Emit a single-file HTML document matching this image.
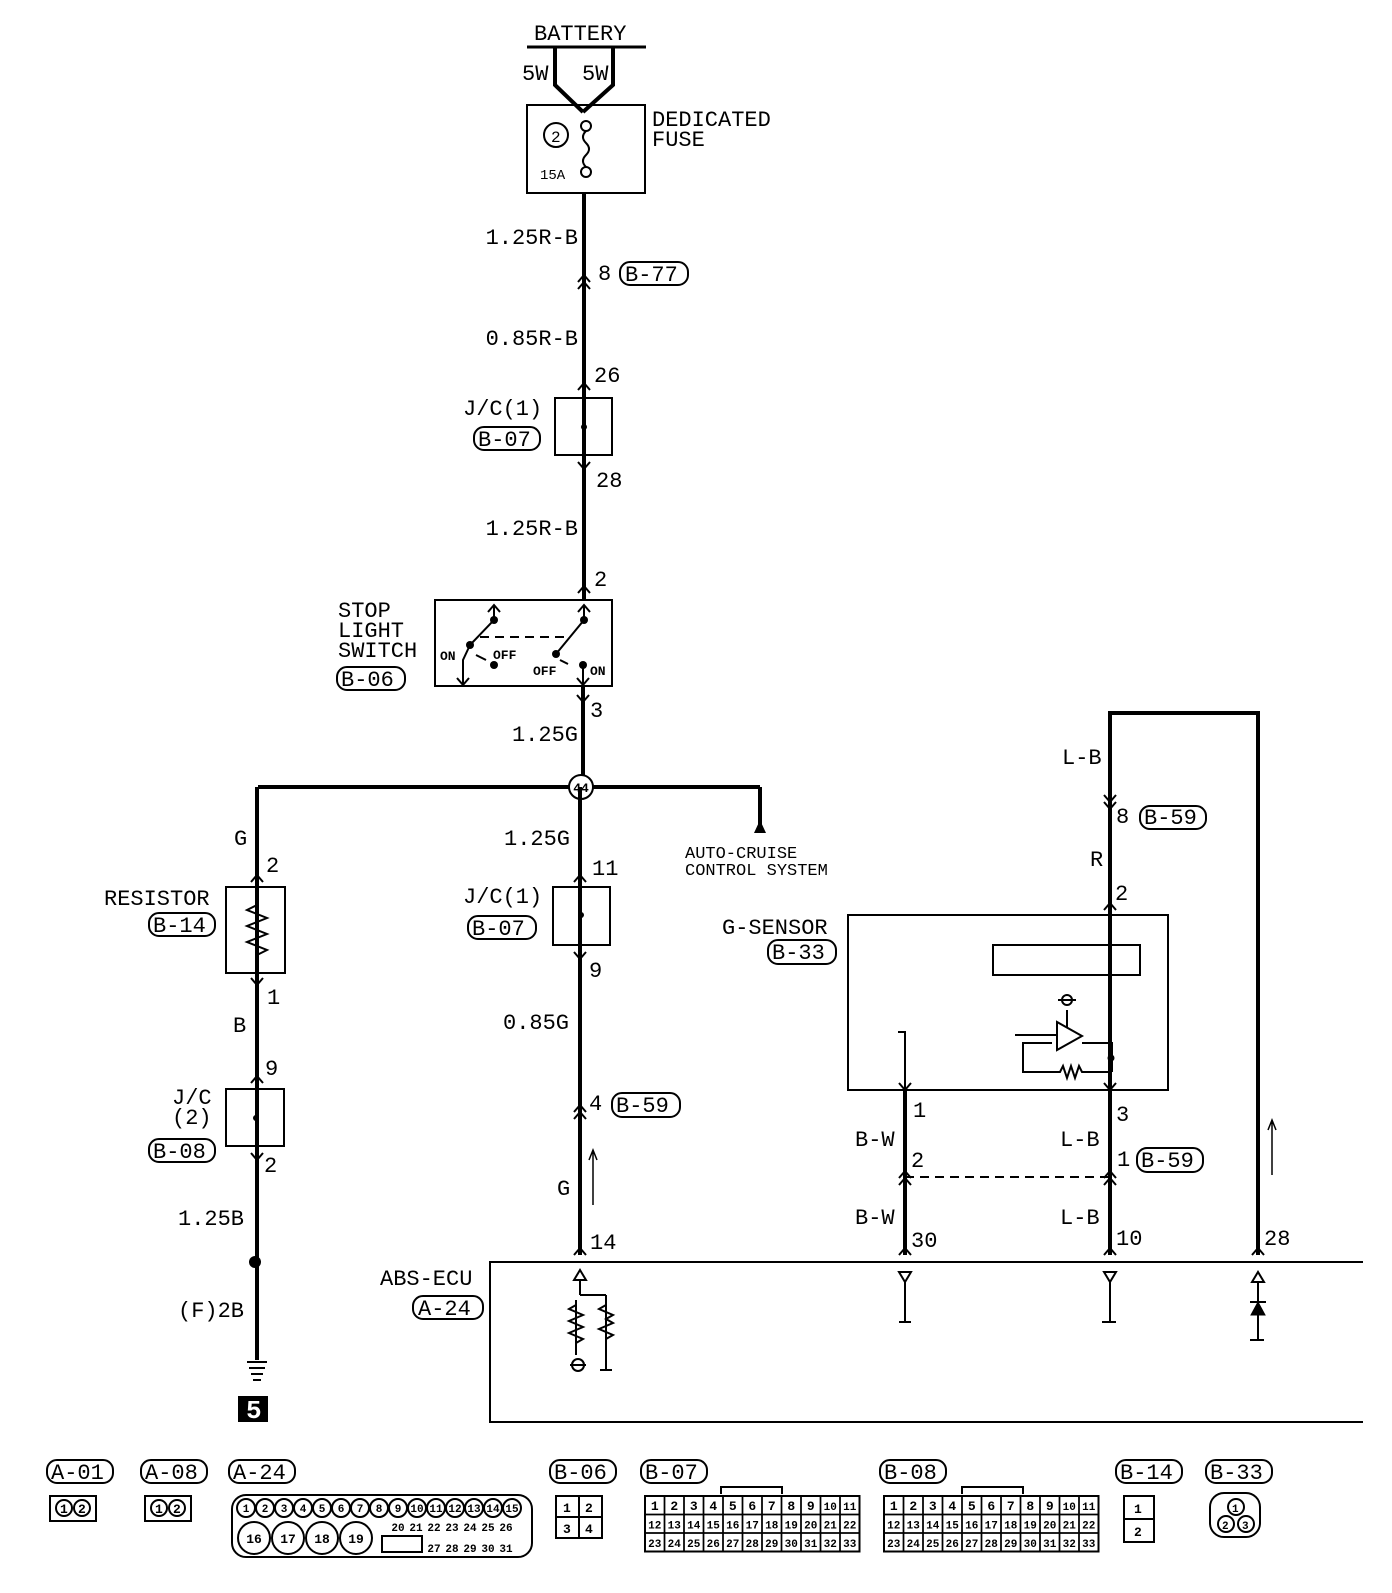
<!DOCTYPE html>
<html><head><meta charset="utf-8"><style>
html,body{margin:0;padding:0;background:#fff}
svg text{font-family:"Liberation Mono",monospace;fill:#000}
</style></head><body>
<svg width="1392" height="1588" viewBox="0 0 1392 1588" xmlns="http://www.w3.org/2000/svg">
<g font-size="22" fill="none" stroke="#000">
<line x1="527" y1="47" x2="646" y2="47" stroke-width="3"/>
<path d="M555 47 V85 L583 112 M613 47 V85 L583 112" stroke-width="4"/>
<rect x="527" y="105" width="118" height="88" stroke-width="2"/>
<circle cx="556" cy="135" r="12" stroke-width="2"/>
<circle cx="586" cy="126" r="5" stroke-width="2"/>
<circle cx="586" cy="172" r="5" stroke-width="2"/>
<path d="M586 131 q-6 6 0 12 q6 6 0 12 q-6 6 0 12" stroke-width="2"/>
<line x1="584" y1="193" x2="584" y2="600" stroke-width="4"/>
<line x1="583" y1="686" x2="583" y2="787" stroke-width="4"/>
<path d="M578 282 L584 275 L590 282 M578 289 L584 282 L590 289" stroke-width="2"/>
<path d="M578 390 L584 383 L590 390" stroke-width="2"/>
<rect x="555" y="398" width="57" height="57" stroke-width="2"/>
<path d="M578 462 L584 469 L590 462" stroke-width="2"/>
<path d="M578 593 L584 586 L590 593" stroke-width="2"/>
<rect x="435" y="600" width="177" height="86" stroke-width="2"/>
<path d="M577 695 L583 702 L589 695" stroke-width="2"/>
<path d="M494 605 V620 L470 645 M488 612 L494 605 L500 612" stroke-width="2"/>
<path d="M584 605 V620 L556 654 M578 612 L584 605 L590 612" stroke-width="2"/>
<path d="M470 645 L463 660 V685 M457 678 L463 685 L469 678" stroke-width="2"/>
<path d="M583 663 V685 M577 678 L583 685 L589 678" stroke-width="2"/>
<line x1="480" y1="637" x2="570" y2="637" stroke-width="2" stroke-dasharray="9,6"/>
<path d="M476 655 l10 5 M560 660 l8 4" stroke-width="2"/>
<line x1="258" y1="787" x2="760" y2="787" stroke-width="4"/>
<line x1="760" y1="787" x2="760" y2="826" stroke-width="4"/>
<circle cx="581" cy="787" r="12" fill="#fff" stroke-width="2"/>
<line x1="257" y1="787" x2="257" y2="1360" stroke-width="4"/>
<path d="M251 882 L257 875 L263 882" stroke-width="2"/>
<rect x="226" y="887" width="59" height="86" stroke-width="2"/>
<path d="M257 905 l-10 5 l20 8 l-20 8 l20 8 l-20 8 l20 8 l-10 5" stroke-width="2"/>
<path d="M251 978 L257 985 L263 978" stroke-width="2"/>
<path d="M251 1083 L257 1076 L263 1083" stroke-width="2"/>
<rect x="226" y="1089" width="58" height="57" stroke-width="2"/>
<path d="M251 1153 L257 1160 L263 1153" stroke-width="2"/>
<path d="M247 1362 h20 M249 1368 h16 M251 1374 h12 M253 1380 h8" stroke-width="2"/>
<line x1="580" y1="787" x2="580" y2="1255" stroke-width="4"/>
<path d="M574 882 L580 875 L586 882" stroke-width="2"/>
<rect x="553" y="887" width="57" height="58" stroke-width="2"/>
<path d="M574 952 L580 959 L586 952" stroke-width="2"/>
<path d="M574 1112 L580 1105 L586 1112 M574 1119 L580 1112 L586 1119" stroke-width="2"/>
<path d="M574 1255 L580 1248 L586 1255" stroke-width="2"/>
<path d="M593 1205 V1152 M589 1160 L593 1150 L597 1160" stroke-width="1.5"/>
<path d="M1110 1255 V713 H1258 V1255" stroke-width="4"/>
<line x1="905" y1="1090" x2="905" y2="1255" stroke-width="4"/>
<path d="M1104 795 L1110 802 L1116 795 M1104 802 L1110 809 L1116 802" stroke-width="2"/>
<path d="M1104 910 L1110 903 L1116 910" stroke-width="2"/>
<rect x="848" y="915" width="320" height="175" stroke-width="2"/>
<rect x="993" y="945" width="147" height="30" stroke-width="2"/>
<line x1="1110" y1="915" x2="1110" y2="945" stroke-width="2"/>
<path d="M905 1033 V1090 M898 1032 h8 M899 1083 L905 1090 L911 1083" stroke-width="2"/>
<path d="M1110 1072 V1090 M1104 1083 L1110 1090 L1116 1083" stroke-width="2"/>
<path d="M1015 1035 H1057 M1057 1022 V1050 L1082 1036 Z M1082 1043 H1112 V1072 M1052 1043 H1023 V1072 H1060 l3 -6 l4 12 l4 -12 l4 12 l4 -12 l3 6 H1112 M1067 1010 V1028 M1058 1000 h18" stroke-width="2"/>
<circle cx="1067" cy="1000" r="5" stroke-width="2"/>
<circle cx="1111" cy="1058" r="3" fill="#000"/>
<path d="M899 1185 L905 1178 L911 1185 M899 1178 L905 1171 L911 1178" stroke-width="2"/>
<path d="M1104 1185 L1110 1178 L1116 1185 M1104 1178 L1110 1171 L1116 1178" stroke-width="2"/>
<line x1="905" y1="1177" x2="1110" y2="1177" stroke-width="2" stroke-dasharray="9,6"/>
<path d="M899 1255 L905 1248 L911 1255 M1104 1255 L1110 1248 L1116 1255 M1252 1255 L1258 1248 L1264 1255" stroke-width="2"/>
<path d="M1272 1175 V1122 M1268 1130 L1272 1120 L1276 1130" stroke-width="1.5"/>
<path d="M1363 1262 H490 V1422 H1363" stroke-width="2"/>
<path d="M574 1280 L580 1270 L586 1280 Z M580 1280 V1295 M576 1300 V1355 M606 1295 V1370 M580 1295 H606" stroke-width="2"/>
<path d="M576 1305 l-7 4 l14 6 l-14 6 l14 6 l-14 6 l14 6 l-7 4 M606 1305 l-7 4 l14 6 l-7 4 l7 4 l-14 6 l14 6 l-7 4" stroke-width="2"/>
<circle cx="578" cy="1365" r="6" stroke-width="2"/>
<path d="M570 1365 h16 M600 1370 h12" stroke-width="2"/>
<path d="M899 1272 L905 1282 L911 1272 Z M905 1282 V1322 M899 1322 h12" stroke-width="2"/>
<path d="M1104 1272 L1110 1282 L1116 1272 Z M1110 1282 V1322 M1102 1322 h14" stroke-width="2"/>
<path d="M1252 1282 L1258 1272 L1264 1282 Z M1258 1282 V1340 M1250 1340 h14 M1250 1302 h16" stroke-width="2"/>
<path d="M1251 1315 L1258 1302 L1265 1315 Z" fill="#000" stroke-width="1"/>
<g stroke-width="2">
<rect x="620" y="262" width="68" height="23" rx="10"/>
<rect x="474" y="427" width="66" height="23" rx="10"/>
<rect x="337" y="667" width="68" height="23" rx="10"/>
<rect x="149" y="913" width="66" height="23" rx="10"/>
<rect x="468" y="916" width="68" height="23" rx="10"/>
<rect x="149" y="1139" width="66" height="23" rx="10"/>
<rect x="612" y="1093" width="68" height="24" rx="10"/>
<rect x="768" y="940" width="68" height="24" rx="10"/>
<rect x="1140" y="806" width="66" height="23" rx="10"/>
<rect x="1137" y="1148" width="66" height="24" rx="10"/>
<rect x="413" y="1296" width="70" height="23" rx="10"/>
</g>
</g>
<g fill="#000">
<circle cx="584" cy="427" r="3"/><circle cx="581" cy="915" r="3"/><circle cx="256" cy="1118" r="3"/>
<circle cx="255" cy="1262" r="6"/>
<circle cx="494" cy="620" r="4"/><circle cx="584" cy="620" r="4"/><circle cx="470" cy="645" r="4"/><circle cx="494" cy="665" r="4"/><circle cx="556" cy="654" r="4"/><circle cx="583" cy="665" r="4"/>
<path d="M754 833 L760 820 L766 833 Z"/>
<rect x="238" y="1396" width="30" height="26"/>
</g>
<g font-size="22">
<text x="534" y="40">BATTERY</text>
<text x="522" y="80">5W</text><text x="582" y="80">5W</text>
<text x="551" y="142" font-size="16">2</text>
<text x="540" y="179" font-size="14">15A</text>
<text x="652" y="126">DEDICATED</text><text x="652" y="146">FUSE</text>
<text x="578" y="244" text-anchor="end">1.25R-B</text>
<text x="598" y="280">8</text><text x="625" y="281">B-77</text>
<text x="578" y="345" text-anchor="end">0.85R-B</text>
<text x="594" y="382">26</text>
<text x="463" y="415">J/C(1)</text><text x="478" y="446">B-07</text>
<text x="596" y="487">28</text>
<text x="578" y="535" text-anchor="end">1.25R-B</text>
<text x="594" y="586">2</text>
<text x="338" y="617">STOP</text><text x="338" y="637">LIGHT</text><text x="338" y="657">SWITCH</text>
<text x="341" y="686">B-06</text>
<text x="440" y="660" font-size="13" font-weight="bold">ON</text><text x="493" y="659" font-size="13" font-weight="bold">OFF</text>
<text x="533" y="675" font-size="13" font-weight="bold">OFF</text><text x="590" y="675" font-size="13" font-weight="bold">ON</text>
<text x="590" y="717">3</text>
<text x="578" y="741" text-anchor="end">1.25G</text>
<text x="581" y="792" font-size="13" font-weight="bold" text-anchor="middle">44</text>
<text x="234" y="845">G</text><text x="266" y="872">2</text>
<text x="104" y="905">RESISTOR</text><text x="153" y="932">B-14</text>
<text x="267" y="1004">1</text><text x="233" y="1032">B</text><text x="265" y="1075">9</text>
<text x="172" y="1104">J/C</text><text x="172" y="1124">(2)</text><text x="153" y="1158">B-08</text>
<text x="264" y="1172">2</text>
<text x="178" y="1225">1.25B</text><text x="178" y="1317">(F)2B</text>
<text x="246" y="1418" style="fill:#fff" font-size="26" font-weight="bold">5</text>
<text x="504" y="845">1.25G</text><text x="592" y="875">11</text>
<text x="463" y="903">J/C(1)</text><text x="472" y="935">B-07</text>
<text x="589" y="977">9</text><text x="503" y="1029">0.85G</text>
<text x="589" y="1110">4</text><text x="616" y="1112">B-59</text>
<text x="557" y="1195">G</text><text x="590" y="1249">14</text>
<text x="685" y="858" font-size="17">AUTO-CRUISE</text><text x="685" y="875" font-size="17">CONTROL SYSTEM</text>
<text x="722" y="934">G-SENSOR</text><text x="772" y="959">B-33</text>
<text x="1062" y="764">L-B</text><text x="1116" y="823">8</text><text x="1144" y="824">B-59</text>
<text x="1090" y="866">R</text><text x="1115" y="900">2</text>
<text x="913" y="1117">1</text><text x="1116" y="1121">3</text>
<text x="855" y="1146">B-W</text><text x="911" y="1167">2</text>
<text x="1060" y="1146">L-B</text><text x="1117" y="1166">1</text><text x="1141" y="1167">B-59</text>
<text x="855" y="1224">B-W</text><text x="911" y="1247">30</text>
<text x="1060" y="1224">L-B</text><text x="1116" y="1245">10</text><text x="1264" y="1245">28</text>
<text x="380" y="1285">ABS-ECU</text><text x="418" y="1315">A-24</text>
</g>
<g fill="none" stroke="#000" stroke-width="2">
<rect x="47" y="1460" width="66" height="23" rx="10"/>
<rect x="141" y="1460" width="66" height="23" rx="10"/>
<rect x="229" y="1460" width="66" height="23" rx="10"/>
<rect x="550" y="1460" width="66" height="23" rx="10"/>
<rect x="641" y="1460" width="66" height="23" rx="10"/>
<rect x="880" y="1460" width="66" height="23" rx="10"/>
<rect x="1116" y="1460" width="66" height="23" rx="10"/>
<rect x="1206" y="1460" width="66" height="23" rx="10"/>
<rect x="50" y="1496" width="46" height="25"/>
<rect x="145" y="1496" width="46" height="25"/>
<circle cx="64" cy="1508" r="8"/><circle cx="82" cy="1508" r="8"/>
<circle cx="159" cy="1508" r="8"/><circle cx="177" cy="1508" r="8"/>
<rect x="232" y="1495" width="300" height="62" rx="14"/>
<rect x="556" y="1496" width="46" height="42"/>
<line x1="556" y1="1517" x2="602" y2="1517"/><line x1="579" y1="1496" x2="579" y2="1538"/>
<rect x="1124" y="1496" width="30" height="46"/><line x1="1124" y1="1519" x2="1154" y2="1519"/>
<rect x="1210" y="1493" width="50" height="44" rx="14"/>
<circle cx="1236" cy="1507" r="8"/><circle cx="1226" cy="1524" r="8"/><circle cx="1246" cy="1524" r="8"/>
<path d="M721 1494 V1487 H782 V1494 M962 1494 V1487 H1023 V1494"/>
</g>
<g font-size="22">
<text x="51" y="1479">A-01</text><text x="145" y="1479">A-08</text><text x="233" y="1479">A-24</text>
<text x="554" y="1479">B-06</text><text x="645" y="1479">B-07</text><text x="884" y="1479">B-08</text>
<text x="1120" y="1479">B-14</text><text x="1210" y="1479">B-33</text>
</g>
<g font-size="13" font-weight="bold">
<text x="60" y="1513">1</text><text x="78" y="1513">2</text><text x="155" y="1513">1</text><text x="173" y="1513">2</text>
<text x="563" y="1512">1</text><text x="585" y="1512">2</text><text x="563" y="1533">3</text><text x="585" y="1533">4</text>
<text x="1134" y="1513">1</text><text x="1134" y="1536">2</text>
<text x="1232" y="1512" font-size="11">1</text><text x="1222" y="1529" font-size="11">2</text><text x="1242" y="1529" font-size="11">3</text>
</g>
<g id="a24" font-size="11" font-weight="bold" stroke="#000" stroke-width="2" fill="none"></g>
<g id="grids"></g>
<script>
(function(){
var ns="http://www.w3.org/2000/svg";
function el(p,t,a,txt){var e=document.createElementNS(ns,t);for(var k in a)e.setAttribute(k,a[k]);if(txt!=null)e.textContent=txt;p.appendChild(e);return e;}
var g=document.getElementById('a24');
for(var i=0;i<15;i++){var cx=246+i*19;el(g,'circle',{cx:cx,cy:1508,r:9});el(g,'text',{x:cx,y:1512,'text-anchor':'middle',fill:'#000',stroke:'none'},i+1);}
for(var i=0;i<4;i++){var cx=254+i*34;el(g,'circle',{cx:cx,cy:1538,r:16});el(g,'text',{x:cx,y:1543,'text-anchor':'middle',fill:'#000',stroke:'none','font-size':13},16+i);}
for(var i=0;i<7;i++){var cx=398+i*18;el(g,'text',{x:cx,y:1531,'text-anchor':'middle',fill:'#000',stroke:'none'},20+i);el(g,'text',{x:cx+36,y:1552,'text-anchor':'middle',fill:'#000',stroke:'none'},i<5?27+i:'');}
el(g,'rect',{x:382,y:1536,width:40,height:16});
var G=document.getElementById('grids');
[[645],[884]].forEach(function(o){var x0=o[0],y0=1496,w=19.5,h=18.5;
el(G,'rect',{x:x0,y:y0,width:w*11,height:h*3,fill:'none',stroke:'#000','stroke-width':2});
for(var r=0;r<3;r++)for(var c=0;c<11;c++){var n=r*11+c+1;
el(G,'rect',{x:x0+c*w,y:y0+r*h,width:w,height:h,fill:'none',stroke:'#000','stroke-width':1.5});
el(G,'text',{x:x0+c*w+w/2,y:y0+r*h+14,'text-anchor':'middle','font-size':n>9?11:13,'font-weight':'bold',fill:'#000'},n);}});
})();
</script>
</svg>
</body></html>
